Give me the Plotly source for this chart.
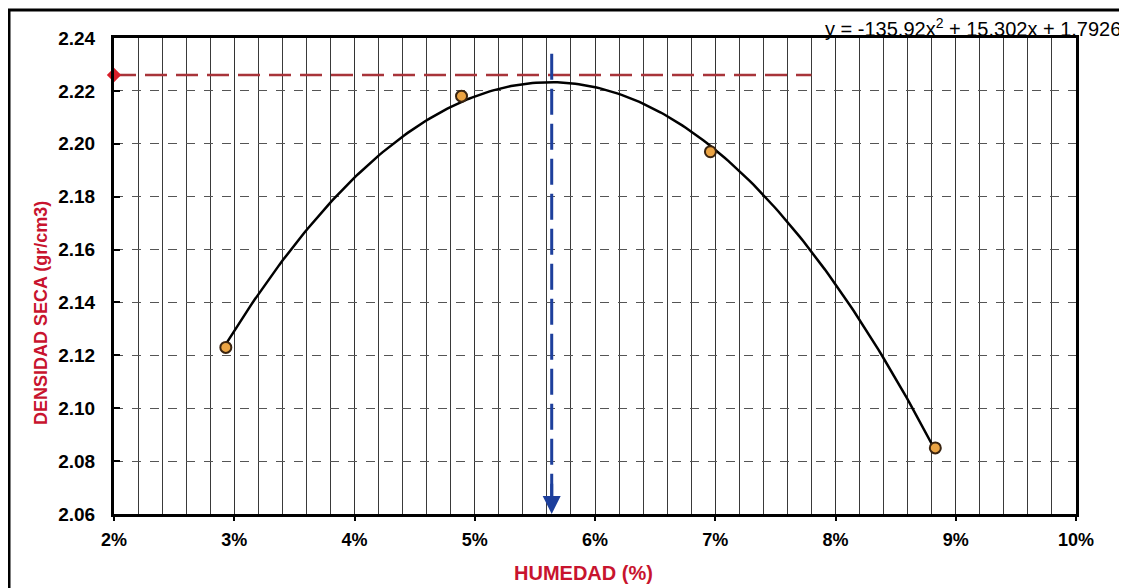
import numpy as np
import plotly.graph_objects as go

# ---- data ----
humedad = [0.0293, 0.0489, 0.0696, 0.0883]          # moisture (fraction)
densidad = [2.123, 2.218, 2.197, 2.085]             # dry density (gr/cm3)
coef_a, coef_b, coef_c = -135.92, 15.302, 1.7926     # trendline y = a x^2 + b x + c
mdd = 2.226                                          # max dry density (red dashed)
och = 0.0564                                         # optimum moisture (blue dashed)
red_end = 0.078
blue_top = 2.234
equation_text = "y = -135.92x<sup>2</sup> + 15.302x + 1.7926"

OFF = 8                      # page body margin
W, H = 1127 - OFF, 588 - OFF
# plot-area edges in page pixels
L, R, T, B = 114, 1076, 38, 514

def px(xp):
    return (xp - L) / (R - L)

def py(yp):
    return (B - yp) / (B - T)

FONT = "Liberation Sans, Arial, sans-serif"
RED = "#c8142e"

xfit = np.linspace(humedad[0], humedad[-1], 200)
yfit = coef_a * xfit ** 2 + coef_b * xfit + coef_c

fig = go.Figure()

fig.add_trace(go.Scatter(x=xfit, y=yfit, mode="lines",
                         line=dict(color="black", width=2.5), hoverinfo="skip"))

fig.add_trace(go.Scatter(x=[0.02, red_end], y=[mdd, mdd], mode="lines",
                         line=dict(color="#a8343a", width=2.5, dash="22px,9px")))
fig.add_trace(go.Scatter(x=[0.02], y=[mdd], mode="markers", cliponaxis=False,
                         marker=dict(symbol="diamond", size=11, color="#d81e2a")))

fig.add_trace(go.Scatter(x=[och, och], y=[blue_top, 2.066], mode="lines",
                         line=dict(color="#1d3f9c", width=3, dash="26px,9px")))

fig.add_trace(go.Scatter(x=humedad, y=densidad, mode="markers",
                         marker=dict(size=11, color="#eba444",
                                     line=dict(color="#3a2410", width=2))))

fig.add_annotation(x=och, y=2.06, ax=och, ay=2.072, xref="x", yref="y",
                   axref="x", ayref="y", text="", showarrow=True,
                   arrowhead=2, arrowsize=1.2, arrowwidth=3, arrowcolor="#1d3f9c")

fig.add_annotation(x=px(823), y=py(27), xref="paper", yref="paper",
                   xanchor="left", yanchor="middle", showarrow=False,
                   text=equation_text, font=dict(family=FONT, size=20, color="black"))

fig.add_annotation(x=px(583), y=py(573), xref="paper", yref="paper",
                   xanchor="center", yanchor="middle", showarrow=False,
                   text="HUMEDAD (%)",
                   font=dict(family=FONT, size=20, color=RED, weight="bold"))

fig.add_annotation(x=px(41), y=py(313), xref="paper", yref="paper",
                   xanchor="center", yanchor="middle", showarrow=False, textangle=-90,
                   text="DENSIDAD SECA (gr/cm3)",
                   font=dict(family=FONT, size=18, color=RED, weight="bold"))

# outer frame of the chart (extends beyond right/bottom edges as in the scan)
fig.add_shape(type="rect", xref="paper", yref="paper",
              x0=px(9), x1=px(1145), y0=py(610), y1=py(10),
              line=dict(color="black", width=3), layer="above")

fig.update_layout(
    width=W, height=H,
    margin=dict(l=L - OFF, r=W + OFF - R, t=T - OFF, b=H + OFF - B),
    paper_bgcolor="white", plot_bgcolor="white",
    showlegend=False,
    font=dict(family=FONT),
)

fig.update_xaxes(
    range=[0.02, 0.10], dtick=0.01, tickformat=".0%",
    showline=True, linecolor="black", linewidth=3, mirror=True,
    ticks="outside", ticklen=4, tickwidth=2, tickcolor="black",
    ticklabelstandoff=3,
    showgrid=True, gridcolor="#333", gridwidth=1,
    minor=dict(dtick=0.002, showgrid=True, gridcolor="#3a3a3a", gridwidth=1),
    tickfont=dict(family=FONT, size=18, color="black", weight="bold"),
    zeroline=False,
)
fig.update_yaxes(
    range=[2.06, 2.24], dtick=0.02, tickformat=".2f",
    showline=True, linecolor="black", linewidth=3, mirror=True,
    ticks="inside", ticklen=6, tickwidth=2, tickcolor="black",
    ticklabelstandoff=12,
    showgrid=True, gridcolor="#555", gridwidth=1, griddash="dash",
    tickfont=dict(family=FONT, size=19, color="black", weight="bold"),
    zeroline=False,
)

fig.write_html("out.html")
